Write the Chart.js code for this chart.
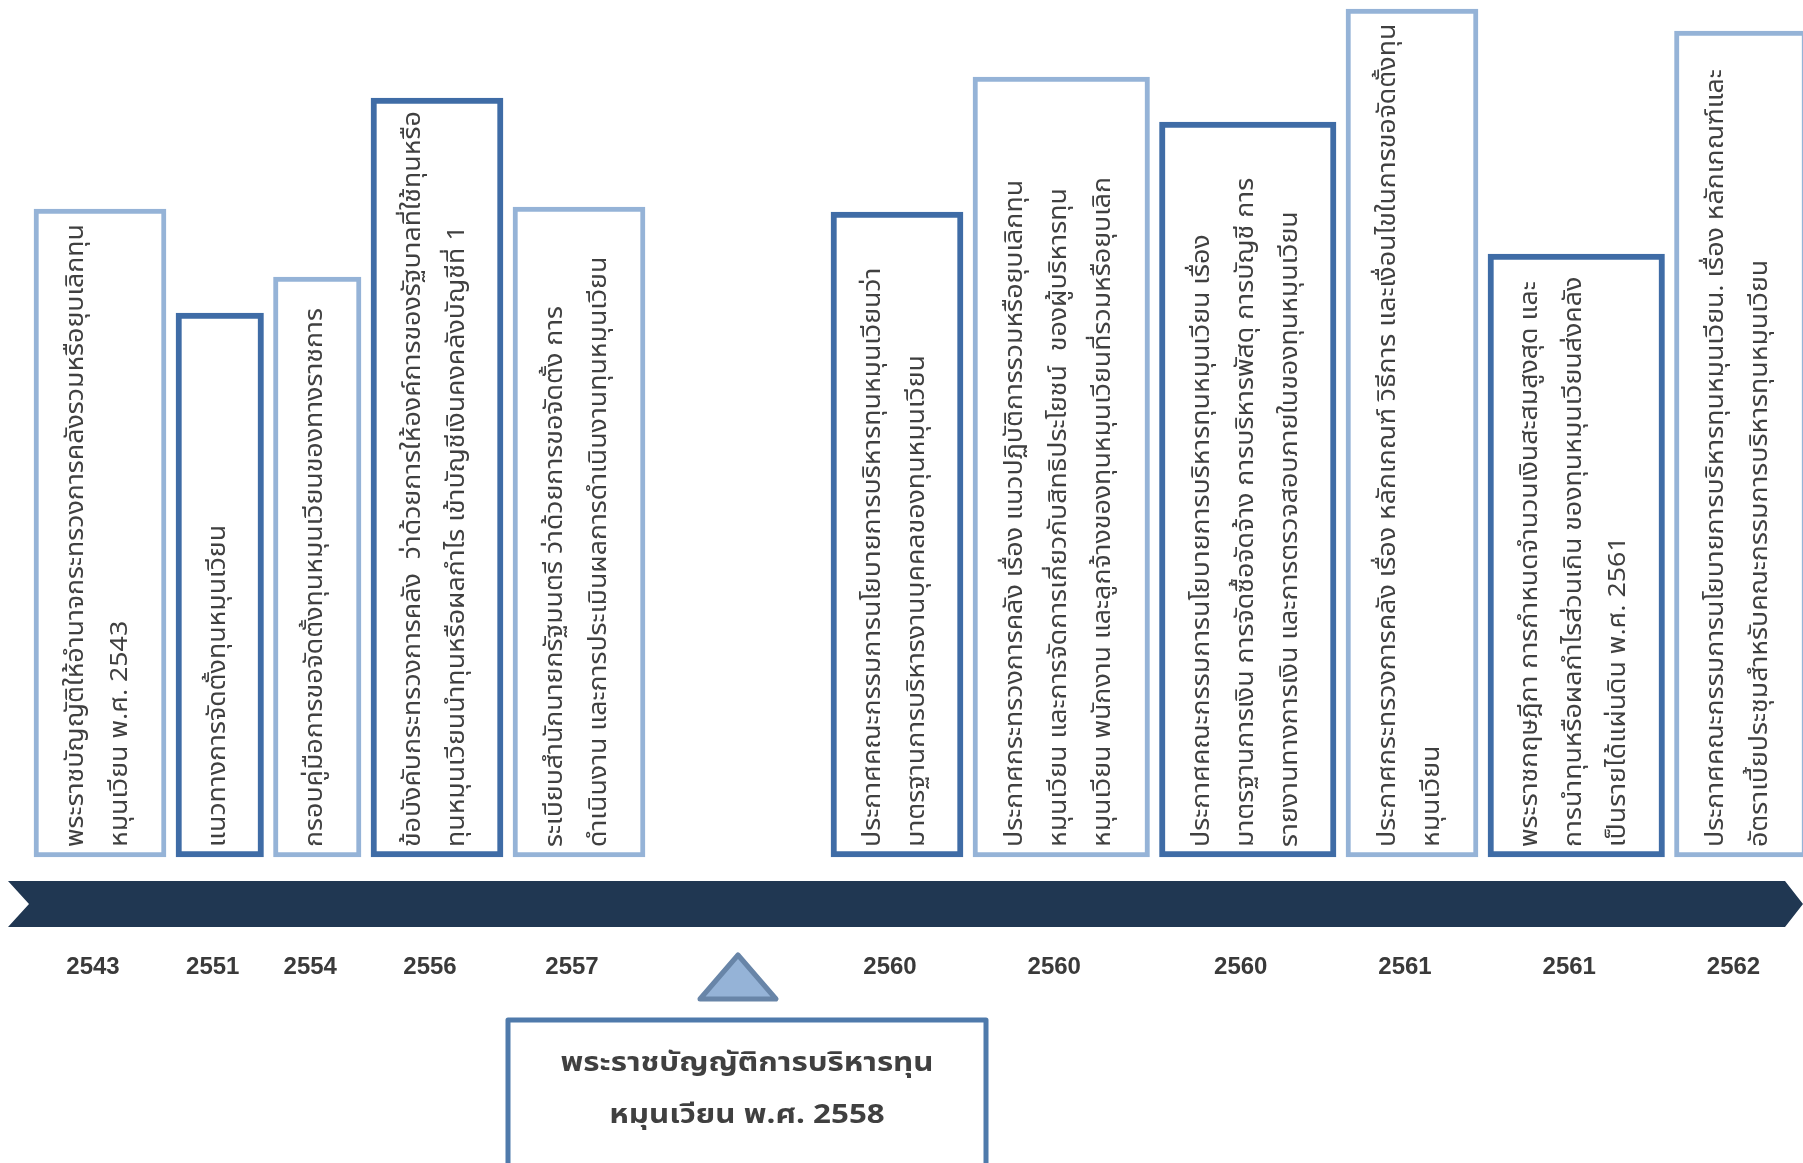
<!DOCTYPE html>
<html>
<head>
<meta charset="utf-8">
<script src="https://cdn.jsdelivr.net/npm/chart.js@4.4.1/dist/chart.umd.min.js"></script>
<style>
  html, body { margin: 0; padding: 0; background: #fff; }
  canvas { display: block; }
</style>
</head>
<body>
<canvas id="timeline" width="1803" height="1163"></canvas>
<script>
// years shown under the arrow, one per event box
const years = ['2543', '2551', '2554', '2556', '2557', '2560', '2560', '2560', '2561', '2561', '2562'];

// how high each box reaches above the arrow
const boxHeights = [648, 544, 580, 759, 650, 645, 780, 735, 848, 603, 826];

// text of each box, line by line
const boxLines = [
    ['พระราชบัญญัติให้อำนาจกระทรวงการคลังรวมหรือยุบเลิกทุน', 'หมุนเวียน พ.ศ. 2543'],
    ['แนวทางการจัดตั้งทุนหมุนเวียน'],
    ['กรอบคู่มือการขอจัดตั้งทุนหมุนเวียนของทางราชการ'],
    ['ข้อบังคับกระทรวงการคลัง  ว่าด้วยการให้องค์การของรัฐบาลที่ใช้ทุนหรือ', 'ทุนหมุนเวียนนำทุนหรือผลกำไร เข้าบัญชีเงินคงคลังบัญชีที่ 1'],
    ['ระเบียบสำนักนายกรัฐมนตรี ว่าด้วยการขอจัดตั้ง การ', 'ดำเนินงาน และการประเมินผลการดำเนินงานทุนหมุนเวียน'],
    ['ประกาศคณะกรรมการนโยบายการบริหารทุนหมุนเวียนว่า', 'มาตรฐานการบริหารงานบุคคลของทุนหมุนเวียน'],
    ['ประกาศกระทรวงการคลัง เรื่อง แนวปฏิบัติการรวมหรือยุบเลิกทุน', 'หมุนเวียน และการจัดการเกี่ยวกับสิทธิประโยชน์  ของผู้บริหารทุน', 'หมุนเวียน พนักงาน และลูกจ้างของทุนหมุนเวียนที่รวมหรือยุบเลิก'],
    ['ประกาศคณะกรรมการนโยบายการบริหารทุนหมุนเวียน เรื่อง', 'มาตรฐานการเงิน การจัดซื้อจัดจ้าง การบริหารพัสดุ การบัญชี การ', 'รายงานทางการเงิน และการตรวจสอบภายในของทุนหมุนเวียน'],
    ['ประกาศกระทรวงการคลัง เรื่อง หลักเกณฑ์ วิธีการ และเงื่อนไขในการขอจัดตั้งทุน', 'หมุนเวียน'],
    ['พระราชกฤษฎีกา การกำหนดจำนวนเงินสะสมสูงสุด และ', 'การนำทุนหรือผลกำไรส่วนเกิน ของทุนหมุนเวียนส่งคลัง', 'เป็นรายได้แผ่นดิน พ.ศ. 2561'],
    ['ประกาศคณะกรรมการนโยบายการบริหารทุนหมุนเวียน. เรื่อง หลักเกณฑ์และ', 'อัตราเบี้ยประชุมสำหรับคณะกรรมการบริหารทุนหมุนเวียน']
];

// the key event in the callout below the arrow, it sits after this box
const keyYear = '2558';
const keyLines = ['พระราชบัญญัติการบริหารทุน', 'หมุนเวียน พ.ศ. 2558'];
const keyAfter = 4;

// layout
const W = 1803, H = 1163;
const lightBlue = '#95b3d7', darkBlue = '#3f6ca6', navy = '#203752', textGrey = '#404040';
const thaiFont = '"Noto Sans Thai", "Noto Sans Thai UI", "Loma", "Garuda", "Noto Sans", sans-serif';
const lineGap = 44;

// box width grows with the number of lines, boxes are packed along the arrow
const widths = boxLines.map(l => 43 + 44.5 * l.length);
const centers = [];
let cursor = 34;
widths.forEach((w, i) => {
    centers.push(cursor + w / 2);
    cursor += w + 10;
    if (i === keyAfter) cursor += 176;
});

const datasets = years.map((yr, i) => ({
    label: yr,
    data: [{ x: centers[i], y: [0, boxHeights[i]] }],
    barThickness: widths[i],
    backgroundColor: '#ffffff',
    borderColor: i % 2 === 0 ? lightBlue : darkBlue,
    borderWidth: i % 2 === 0 ? 5 : 6,
    borderSkipped: false,
    grouped: false
}));

const timelinePlugin = {
    id: 'timeline',
    beforeDatasetsDraw(chart) {
        const ctx = chart.ctx;
        const y = chart.scales.y;
        const top = y.getPixelForValue(-24), bottom = y.getPixelForValue(-70);
        const mid = (top + bottom) / 2;
        ctx.save();
        ctx.fillStyle = navy;
        ctx.beginPath();
        ctx.moveTo(8, top);
        ctx.lineTo(1785, top);
        ctx.lineTo(W, mid);
        ctx.lineTo(1785, bottom);
        ctx.lineTo(8, bottom);
        ctx.lineTo(29, mid);
        ctx.closePath();
        ctx.fill();
        ctx.restore();
    },
    afterDatasetsDraw(chart) {
        const ctx = chart.ctx;
        const y = chart.scales.y;
        ctx.save();

        // rotated box text, reading bottom to top
        ctx.font = '24px ' + thaiFont;
        const fit = 623 / ctx.measureText(boxLines[0][0]).width;
        ctx.fillStyle = textGrey;
        ctx.textBaseline = 'middle';
        ctx.textAlign = 'left';
        chart.data.datasets.forEach((ds, i) => {
            const bar = chart.getDatasetMeta(i).data[0];
            const lines = boxLines[i];
            ctx.save();
            ctx.translate(bar.x, bar.base - 10);
            ctx.rotate(-Math.PI / 2);
            ctx.scale(fit, 1);
            lines.forEach((t, k) => {
                ctx.fillText(t, 0, (k - (lines.length - 1) / 2) * lineGap);
            });
            ctx.restore();
        });

        // year labels
        ctx.font = 'bold 24px "Liberation Sans", Arial, sans-serif';
        ctx.fillStyle = '#3a3a3a';
        ctx.textAlign = 'center';
        const labelY = y.getPixelForValue(-110);
        chart.data.datasets.forEach((ds, i) => {
            const bar = chart.getDatasetMeta(i).data[0];
            ctx.fillText(years[i], bar.x - 7, labelY);
        });

        // callout for the key event
        const left = chart.getDatasetMeta(keyAfter).data[0];
        const right = chart.getDatasetMeta(keyAfter + 1).data[0];
        const gx = ((left.x + left.width / 2) + (right.x - right.width / 2)) / 2;
        const apex = y.getPixelForValue(-98), baseY = y.getPixelForValue(-142);
        ctx.beginPath();
        ctx.moveTo(gx, apex);
        ctx.lineTo(gx + 38, baseY);
        ctx.lineTo(gx - 38, baseY);
        ctx.closePath();
        ctx.fillStyle = lightBlue;
        ctx.fill();
        ctx.lineJoin = 'round';
        ctx.lineWidth = 5;
        ctx.strokeStyle = '#6885a8';
        ctx.stroke();

        const bx = gx + 9, bw = 478, bTop = y.getPixelForValue(-163);
        ctx.lineWidth = 5;
        ctx.strokeStyle = '#4f7aab';
        ctx.strokeRect(bx - bw / 2, bTop, bw, H - bTop + 10);

        ctx.font = 'bold 27px ' + thaiFont;
        const fit2 = 373 / ctx.measureText(keyLines[0]).width;
        ctx.fillStyle = textGrey;
        keyLines.forEach((t, k) => {
            ctx.save();
            ctx.translate(bx, bTop + 46 + k * 52);
            ctx.scale(fit2, 1);
            ctx.fillText(t, 0, 0);
            ctx.restore();
        });
        ctx.restore();
    }
};

new Chart(document.getElementById('timeline'), {
    type: 'bar',
    data: { datasets: datasets },
    options: {
        responsive: false,
        animation: false,
        devicePixelRatio: 1,
        events: [],
        layout: { padding: 0 },
        plugins: { legend: { display: false }, tooltip: { enabled: false } },
        scales: {
            x: { type: 'linear', min: 0, max: W, offset: false, display: false },
            y: { type: 'linear', min: 857 - H, max: 857, display: false }
        }
    },
    plugins: [timelinePlugin]
});
</script>
</body>
</html>
